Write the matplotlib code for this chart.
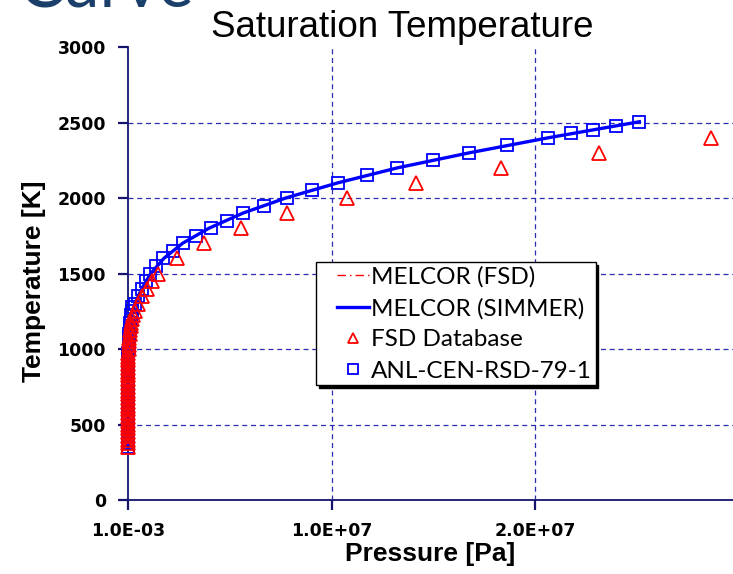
import matplotlib
matplotlib.use("Agg")
import matplotlib.pyplot as plt
from matplotlib.ticker import FixedLocator, FixedFormatter
from matplotlib.lines import Line2D
from matplotlib.legend_handler import HandlerLine2D

# ---------------- data ----------------
# ANL-CEN-RSD-79-1 (squares): temperature [K], pressure [Pa]
anl_T = [350, 375, 400, 425, 450, 475, 500, 525, 550, 575, 600, 625, 650, 675, 700,
         725, 750, 775, 800, 825, 850, 875, 900, 925, 950, 975, 1000, 1025, 1050, 1075,
         1100, 1125, 1150, 1175, 1200, 1225, 1250, 1275,
         1300, 1350, 1400, 1450, 1500, 1550, 1600, 1650, 1700, 1750, 1800, 1850, 1900,
         1950, 2000, 2050, 2100, 2150, 2200, 2250, 2300, 2350, 2400, 2430, 2450, 2480, 2505]
anl_P = [0.001, 0.002, 0.01, 0.05, 0.2, 0.7, 2, 5, 12, 27, 55, 105, 190, 330, 540,
         850, 1300, 1900, 2700, 3800, 5200, 7000, 9300, 12000, 16000, 20000, 26000, 32000, 40000, 50000,
         61000, 74000, 89000, 107000, 127000, 150000, 176000, 205000,
         0.35e6, 0.50e6, 0.70e6, 0.90e6, 1.10e6, 1.40e6, 1.74e6, 2.23e6, 2.72e6, 3.34e6, 4.06e6, 4.85e6, 5.67e6,
         6.68e6, 7.80e6, 9.03e6, 10.33e6, 11.73e6, 13.20e6, 14.97e6, 16.76e6, 18.64e6, 20.65e6, 21.75e6, 22.83e6, 23.97e6, 25.13e6]

# FSD Database (triangles)
fsd_T = [350, 375, 400, 425, 450, 475, 500, 525, 550, 575, 600, 625, 650, 675, 700,
         725, 750, 775, 800, 825, 850, 875, 900, 925, 950, 975, 1000, 1025, 1050, 1075,
         1100, 1125, 1150, 1175, 1200, 1225, 1250,
         1300, 1350, 1400, 1450, 1500,
         1600, 1700, 1800, 1900, 2000, 2100, 2200, 2300, 2400]
fsd_P = [0.001, 0.003, 0.015, 0.07, 0.25, 0.9, 2.6, 6.5, 15, 33, 68, 130, 235, 400, 650,
         1000, 1550, 2300, 3300, 4600, 6300, 8500, 11200, 14600, 19000, 24000, 31000, 39000, 49000, 61000,
         75000, 95000, 125000, 165000, 210000, 270000, 340000,
         0.50e6, 0.70e6, 0.92e6, 1.18e6, 1.49e6,
         2.39e6, 3.73e6, 5.54e6, 7.83e6, 10.75e6, 14.15e6, 18.33e6, 23.14e6, 28.63e6]

# MELCOR (SIMMER) – solid blue line
simmer_T = [350, 500, 700, 900, 1000, 1100, 1200, 1300, 1400, 1500, 1600, 1700, 1800,
            1900, 2000, 2100, 2200, 2300, 2400, 2505]
simmer_P = [0.001, 10, 600, 9000, 26000, 62000, 130000, 0.33e6, 0.68e6, 1.12e6, 1.76e6, 2.68e6, 3.98e6,
            5.65e6, 7.75e6, 10.3e6, 13.25e6, 16.8e6, 20.7e6, 25.13e6]

# MELCOR (FSD) – thin red dash-dot line (mostly hidden under the blue one)
melfsd_T = [350, 500, 700, 900, 1000, 1100, 1200, 1300, 1400, 1500, 1600, 1700, 1800,
            1900, 2000, 2100, 2200, 2300, 2400, 2500]
melfsd_P = [0.001, 10, 600, 9000, 27000, 65000, 140000, 0.35e6, 0.70e6, 1.15e6, 1.80e6, 2.70e6, 4.00e6,
            5.65e6, 7.75e6, 10.3e6, 13.2e6, 16.7e6, 20.6e6, 25.0e6]

x_ticks = [0.001, 1.0e7, 2.0e7]
x_tick_labels = ["1.0E-03", "1.0E+07", "2.0E+07"]
y_ticks = [0, 500, 1000, 1500, 2000, 2500, 3000]

# ---------------- figure ----------------
W, H = 733, 574
fig = plt.figure(figsize=(W / 100, H / 100), dpi=100)
ax = fig.add_axes([128 / W, (H - 500) / H, (W - 128) / W, (500 - 47) / H])

navy = "#14146e"
gridc = "#2c2cb0"

ax.plot(melfsd_P, melfsd_T, color="red", lw=1.0, ls=(0, (6, 3, 1, 3)), zorder=3,
        label="MELCOR (FSD)", clip_on=False)
ax.plot(simmer_P, simmer_T, color="#0000ff", lw=2.4, zorder=4, label="MELCOR (SIMMER)",
        clip_on=False)
ax.plot(anl_P, anl_T, ls="none", marker="s", ms=9, mfc="none", mec="#0000ff", mew=1.3,
        zorder=5, label="ANL-CEN-RSD-79-1", clip_on=False)
ax.plot(fsd_P, fsd_T, ls="none", marker="^", ms=9.5, mfc="none", mec="#ff0000", mew=1.3,
        zorder=6, label="FSD Database", clip_on=False)

ax.set_xlim(0, (W - 128) / 203.5 * 1e7)
ax.set_ylim(0, 3000)
ax.xaxis.set_major_locator(FixedLocator(x_ticks))
ax.xaxis.set_major_formatter(FixedFormatter(x_tick_labels))
ax.set_yticks(y_ticks)

for s in ("top", "right"):
    ax.spines[s].set_visible(False)
for s in ("left", "bottom"):
    ax.spines[s].set_color(navy)
    ax.spines[s].set_linewidth(1.3)

ax.tick_params(axis="both", direction="out", length=7, width=1.6, color=navy,
               labelsize=12.5, pad=9)
for lab in ax.get_xticklabels() + ax.get_yticklabels():
    lab.set_fontweight("bold")
    lab.set_family("DejaVu Sans")

ax.grid(True, color=gridc, lw=0.9, ls=(0, (4, 3)))
ygl = ax.get_ygridlines()
ygl[0].set_visible(False)
ygl[-1].set_visible(False)
ax.get_xgridlines()[0].set_visible(False)

ax.set_xlabel("Pressure [Pa]", fontsize=19, fontweight="bold", family="Liberation Sans",
              labelpad=1)
ax.set_ylabel("Temperature [K]", fontsize=19, fontweight="bold", family="Liberation Sans",
              va="center")
ax.yaxis.set_label_coords(-0.155, 0.483)

fig.text(402 / W, 1 - 36.7 / H, "Saturation Temperature", ha="center", va="baseline",
         fontsize=26.5, family="Liberation Sans", color="black")
fig.text(195 / W, 1 - 8 / H, "Curve", ha="right", va="baseline", fontsize=48,
         family="Lato", color="#1b3f6b")

h, l = ax.get_legend_handles_labels()
order = ["MELCOR (FSD)", "MELCOR (SIMMER)", "FSD Database", "ANL-CEN-RSD-79-1"]
hd = dict(zip(l, h))
leg = ax.legend([hd[k] for k in order], order,
                loc="upper left", bbox_to_anchor=((316 - 128) / 605, (500 - 262) / 453),
                borderaxespad=0, frameon=True, fancybox=False, framealpha=1,
                edgecolor="black", prop={"family": "Lato", "size": 17.5},
                handlelength=2.0, handletextpad=0.1, labelspacing=0.42,
                borderpad=0.16, markerscale=0.8,
                handler_map={Line2D: HandlerLine2D(xpad=0.72)},
                shadow={"color": "black", "alpha": 1.0})
leg.get_frame().set_linewidth(1.0)

fig.savefig("out.png", dpi=100)
